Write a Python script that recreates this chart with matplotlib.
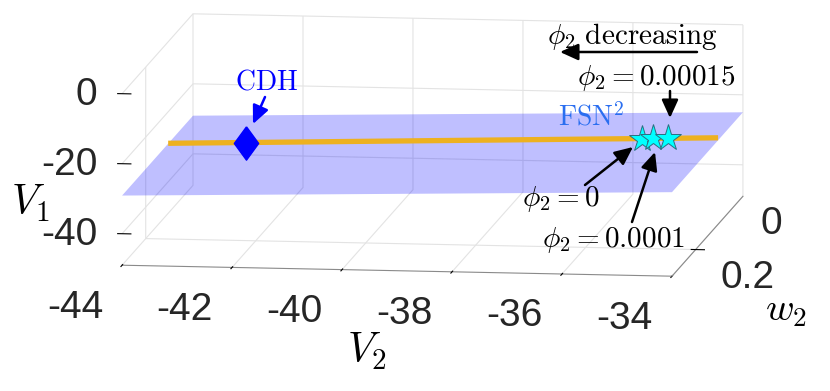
import numpy as np
import matplotlib
matplotlib.use('Agg')
import matplotlib.pyplot as plt
from matplotlib.patches import FancyArrowPatch
from mpl_toolkits.mplot3d import proj3d
from mpl_toolkits.mplot3d.art3d import Poly3DCollection

plt.rcParams['mathtext.fontset'] = 'cm'
plt.rcParams['font.family'] = ['Liberation Sans', 'DejaVu Sans']
plt.rcParams['axes.unicode_minus'] = False
plt.rcParams['grid.color'] = '#e3e3e3'
plt.rcParams['grid.linewidth'] = 0.8

# ---------------- data ----------------
v2_lim = [-44, -34]
w2_lim = [-0.4, 0.2]
v1_lim = [-49, 0]
v2_ticks = [-44, -42, -40, -38, -36, -34]
w2_ticks = [0, 0.2]
v1_ticks = [-40, -20, 0]

plane_v2 = [-44, -34]
plane_w2 = [-0.4, 0.2]
plane_v1 = [-29.1, -25.0]          # V1 of the plane at V2=-44 and V2=-34

branch_v2 = [-44, -34]
branch_w2 = [-0.19, -0.19]
branch_v1 = [-29.0, -24.3]

cdh_v2 = [-42.58]
cdh_w2 = [-0.19]
cdh_v1 = [-28.35]

fsn_v2 = [-35.38, -35.18, -34.91]
fsn_w2 = [-0.19, -0.19, -0.19]
fsn_v1 = [-24.95, -24.85, -24.70]
phi2_vals = ['0', '0.0001', '0.00015']

# ---------------- figure ----------------
W, H = 830, 391
fig = plt.figure(figsize=(W / 100, H / 100), dpi=100)
ax = fig.add_axes([0, 0, 1, 1], projection='3d', proj_type='ortho',
                  computed_zorder=False)
ax.patch.set_alpha(0)

ax.set_xlim(*v2_lim)
ax.set_ylim(w2_lim[1], w2_lim[0])   # w2 increases toward the viewer
ax.set_zlim(*v1_lim)
ax.set_xticks(v2_ticks)
# the w2 = 0.2 tick coincides with the front edge; only inner ticks get grid lines
ax.set_yticks([t for t in w2_ticks if min(w2_lim) < t < max(w2_lim)])
ax.set_zticks(v1_ticks)

aspect = np.array([554.8, 537.7, 173.5])
zoom = 1.0
ax.set_box_aspect(aspect, zoom=zoom)
ax.view_init(elev=8.62, azim=-82.42, roll=0)

for axis in (ax.xaxis, ax.yaxis, ax.zaxis):
    axis.set_pane_color((1, 1, 1, 0))
    axis.pane.set_edgecolor('#e3e3e3')
    axis.line.set_color('#8a8a8a')
    axis.line.set_linewidth(0.8)
    axis._axinfo['tick']['color'] = '#666666'
    axis._axinfo['grid']['color'] = '#e3e3e3'
    axis._axinfo['grid']['linewidth'] = 0.8
ax.xaxis.pane.set_edgecolor('none')
ax.zaxis.line.set_visible(False)

# plane
z_of = dict(zip(plane_v2, plane_v1))
verts = [[(plane_v2[0], plane_w2[0], z_of[plane_v2[0]]),
          (plane_v2[1], plane_w2[0], z_of[plane_v2[1]]),
          (plane_v2[1], plane_w2[1], z_of[plane_v2[1]]),
          (plane_v2[0], plane_w2[1], z_of[plane_v2[0]])]]
ax.add_collection3d(Poly3DCollection(verts, facecolor=(0, 0, 1, 0.25),
                                     edgecolor='none', zorder=1))

ax.plot(branch_v2, branch_w2, branch_v1, color='#EDB120', lw=3.8,
        solid_capstyle='butt', zorder=2)
diamond = [(0, 1), (0.73, 0), (0, -1), (-0.73, 0), (0, 1)]
ax.plot(cdh_v2, cdh_w2, cdh_v1, ls='none', marker=diamond, ms=24,
        color='#0000ff', zorder=3)
ax.plot(fsn_v2, fsn_w2, fsn_v1, ls='none', marker='*', ms=20,
        mfc='#00ffff', mec='#2b6f80', mew=0.7, zorder=4)


# ---------------- fit the axes so the box lands where it should ----------------
def to_px(xs, ys, zs):
    M = ax.get_proj()
    px, py, _ = proj3d.proj_transform(np.asarray(xs, float), np.asarray(ys, float),
                                      np.asarray(zs, float), M)
    return ax.transData.transform(np.column_stack([px, py]))


def set_pos(cx, cy, side):
    ax.set_position([(cx - side / 2) / W, (cy - side / 2) / H, side / W, side / H])


cx, cy, side = 432.5, H - 145, 900
set_pos(cx, cy, side)
tgt = np.array([[122, H - 265], [743, H - 25]], float)
for _ in range(3):
    fig.canvas.draw()
    p = to_px([v2_lim[0], v2_lim[1]], [w2_lim[1], w2_lim[0]], [v1_lim[0], v1_lim[1]])
    zoom *= np.linalg.norm(tgt[1] - tgt[0]) / np.linalg.norm(p[1] - p[0])
    ax.set_box_aspect(aspect, zoom=zoom)
    fig.canvas.draw()
    p = to_px([v2_lim[0], v2_lim[1]], [w2_lim[1], w2_lim[0]], [v1_lim[0], v1_lim[1]])
    d = tgt.mean(0) - p.mean(0)
    cx += d[0]
    cy += d[1]
    set_pos(cx, cy, side)

# put the V1 ticks on the front-left vertical edge
best, best_x = None, None
for opt in ('lower', 'upper', 'default', 'both'):
    ax.zaxis.set_ticks_position(opt)
    fig.canvas.draw()
    xs = [np.mean(tk.tick1line.get_xdata()) for tk in ax.zaxis.get_major_ticks()
          if len(tk.tick1line.get_xdata())]
    if xs:
        m = np.mean(xs)
        if best_x is None or m < best_x:
            best, best_x = opt, m
ax.zaxis.set_ticks_position(best)
for axis in (ax.xaxis, ax.yaxis, ax.zaxis):
    axis.set_major_formatter(plt.NullFormatter())
fig.canvas.draw()

# tick labels: projected next to their ticks, drawn as flat figure text
tick_kw = dict(fontsize=28, color='#262626')


def tick_label(x, y, z, s, ha):
    px, py = to_px([x], [y], [z])[0]
    fig.text(px / W, py / H, s, ha=ha, va='center', **tick_kw)


for t in v2_ticks:
    tick_label(t - 0.17, w2_lim[1] + 0.32, v1_lim[0], f'{t:g}', 'center')
for t in v1_ticks:
    tick_label(v2_lim[0] - 0.45, w2_lim[1], t - 0.6, f'{t:g}', 'right')
for t in w2_ticks:
    lift = 7.7 * (w2_lim[1] - t) / 0.2
    tick_label(v2_lim[1] + 1.38, t, v1_lim[0] + lift, f'{t:g}', 'center')


# ---------------- annotations (figure pixel positions) ----------------
def fp(x, y):
    return (x / W, 1 - y / H)


def arrow(tail, head, color='k', lw=1.8):
    fig.add_artist(FancyArrowPatch(fp(*tail), fp(*head), transform=fig.transFigure,
                                   arrowstyle='-|>,head_length=0.55,head_width=0.25',
                                   mutation_scale=20, color=color, lw=lw,
                                   shrinkA=0, shrinkB=0))


fs = 21
fig.text(*fp(632, 36), r'$\phi_2\ \mathrm{decreasing}$', ha='center', va='center', fontsize=fs)
arrow((697, 52), (560, 52))
fig.text(*fp(656, 78), r'$\phi_2 = %s$' % phi2_vals[2], ha='center', va='center', fontsize=fs)
arrow((670, 91), (670, 118))
fig.text(*fp(561, 199), r'$\phi_2 = %s$' % phi2_vals[0], ha='center', va='center', fontsize=fs)
arrow((585, 185), (633, 147))
fig.text(*fp(614, 240), r'$\phi_2 = %s$' % phi2_vals[1], ha='center', va='center', fontsize=fs)
arrow((632, 222), (655, 152))
fig.text(*fp(267, 82), r'$\mathrm{CDH}$', ha='center', va='center', fontsize=20, color='#0000ff')
arrow((265, 97), (253, 124), color='#0000ff')
fig.text(*fp(591, 117), r'$\mathrm{FSN}^2$', ha='center', va='center', fontsize=20, color='#2a6ef0')

fig.text(*fp(30, 203), r'$V_1$', ha='center', va='center', fontsize=30)
fig.text(*fp(367, 351), r'$V_2$', ha='center', va='center', fontsize=30)
fig.text(*fp(786, 311), r'$w_2$', ha='center', va='center', fontsize=28)

fig.savefig('out.png', dpi=100, facecolor='white')
